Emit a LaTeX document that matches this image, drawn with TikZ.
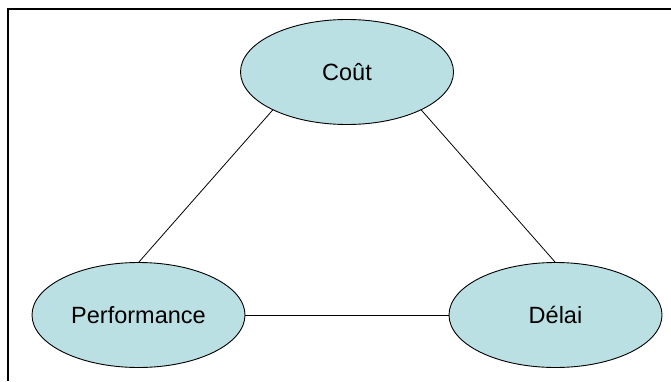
\documentclass[tikz,border=0pt]{standalone}
\usepackage{fontspec}
\setmainfont{Liberation Sans}
\usetikzlibrary{shapes.geometric}
\definecolor{goalfill}{RGB}{187,224,227}
\tikzset{goal/.style={ellipse,draw,line width=0.9pt,fill=goalfill,minimum width=213pt,minimum height=105pt,inner sep=0pt,outer sep=0pt,font=\fontsize{23.5}{28}\selectfont}}

\begin{document}
\begin{tikzpicture}[x=1pt,y=1pt]
\useasboundingbox (0,0) rectangle (671,381);
\draw[line width=2pt] (8,0) |- (671,372);
\node[goal] (cout) at (347,309) {Coût};
\node[goal] (perf) at (138.5,66) {Performance};
\node[goal] (delai) at (555.5,66) {Délai};
\draw[line width=0.8pt] (cout.207) -- (perf.north);
\draw[line width=0.8pt] (cout.333) -- (delai.north);
\draw[line width=0.8pt] (perf) -- (delai);
\end{tikzpicture}
\end{document}
